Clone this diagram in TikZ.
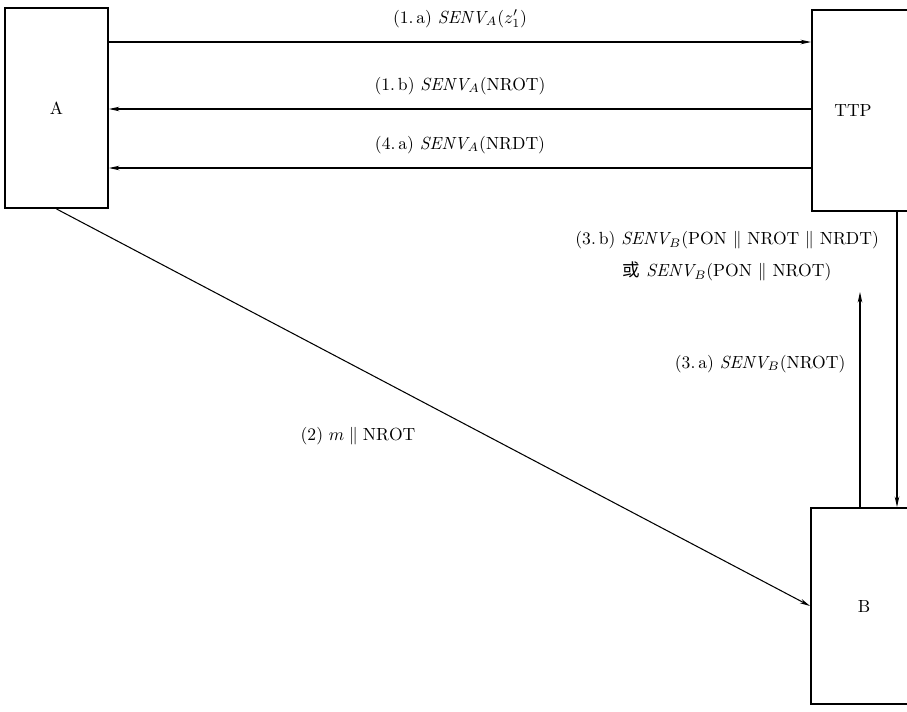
\documentclass[tikz,border=0pt]{standalone}
\usepackage{amsmath}
\usepackage{fontspec}
\newfontfamily\cjk{Noto Sans CJK SC}
\usetikzlibrary{arrows.meta}
\tikzset{
    bloco/.style={draw=black, line width=1.1pt},
    envio/.style={semithick, -{Stealth[length=6pt, width=2.6pt]}},
    rotulo/.style={font=\normalsize, inner sep=2pt}
}
\newcommand{\senv}[1]{\ensuremath{\mathit{SENV}_{#1}}}

\begin{document}
\begin{tikzpicture}[x=0.02cm, y=-0.02cm]
    \clip (0,0) rectangle (907,711);
    \node[bloco, minimum width=2.06cm, minimum height=4cm] (a) at (56.5,108) {A};
    \node[bloco, minimum width=2.96cm, minimum height=4.02cm,
          label={[xshift=-0.66cm]center:TTP}] (ttp) at (886,110.5) {};
    \node[bloco, minimum width=2.98cm, minimum height=3.92cm,
          label={[xshift=-0.43cm]center:B}] (b) at (885.5,606) {};
    \draw[envio] (a.east |- 0,42) -- node[rotulo, above=6pt] {(1.\,a) \senv{A}$(z'_1)$} (ttp.west |- 0,42);
    \draw[envio] (ttp.west |- 0,109) -- node[rotulo, above=6pt] {(1.\,b) \senv{A}(NROT)} (a.east |- 0,109);
    \draw[envio] (ttp.west |- 0,168) -- node[rotulo, above=6pt] {(4.\,a) \senv{A}(NRDT)} (a.east |- 0,168);
    \draw[envio] (a.south) -- (b.west);
    \node[rotulo] (m) at (358,436) {(2) $m\parallel\mathrm{NROT}$};
    \coordinate (topo) at (860,292);
    \draw[envio] (b.north -| topo) -- node[rotulo, pos=0.667, left=6pt] {(3.\,a) \senv{B}(NROT)} (topo);
    \draw[envio] (ttp.south -| 897,0) -- node[rotulo, pos=0.15, left=8pt, align=center]
        {(3.\,b) \senv{B}(PON $\parallel$ NROT $\parallel$ NRDT)\\[6pt] {\cjk 或} \senv{B}(PON $\parallel$ NROT)} (b.north -| 897,0);
\end{tikzpicture}
\end{document}
